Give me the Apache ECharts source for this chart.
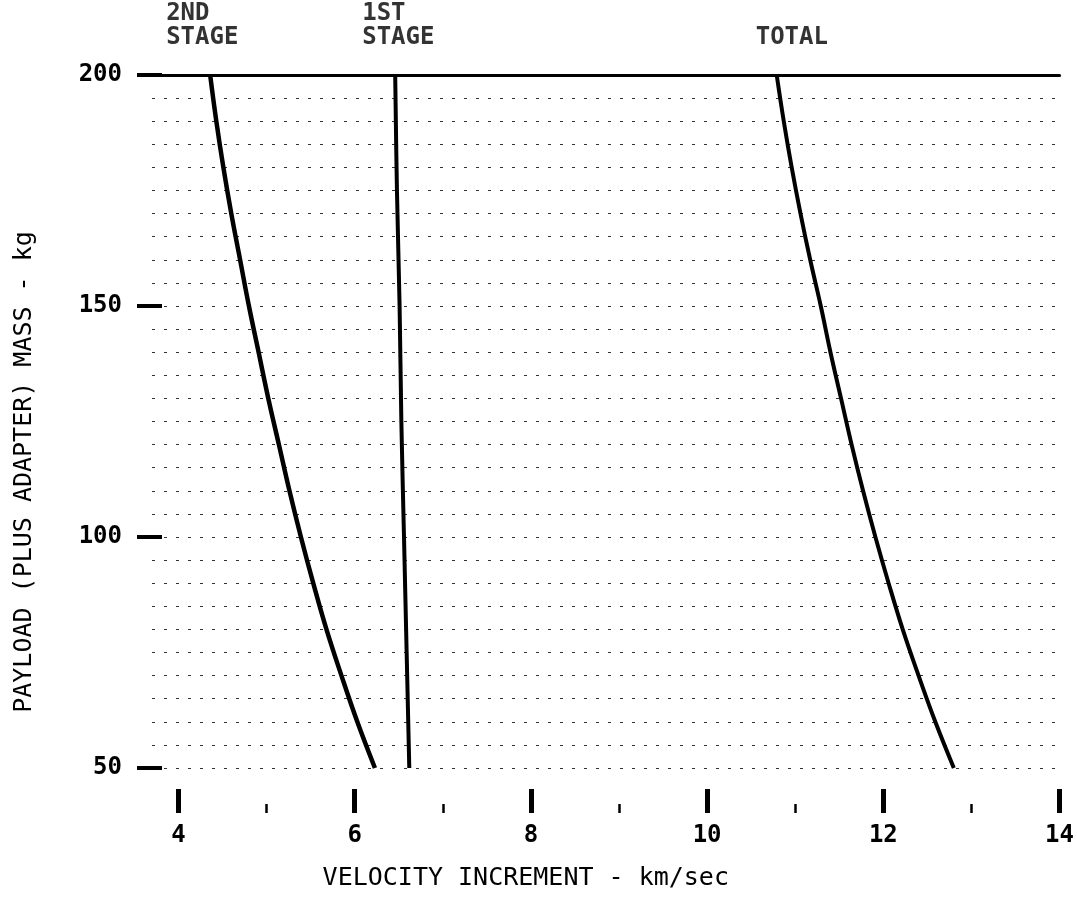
<!DOCTYPE html>
<html>
<head>
<meta charset="utf-8">
<script src="https://cdn.jsdelivr.net/npm/echarts@6/dist/echarts.min.js"></script>
<style>
  html, body { margin: 0; padding: 0; background: #fff; }
  #chart { width: 1077px; height: 902px; }
</style>
</head>
<body>
<div id="chart"></div>
<script>
// Payload mass (kg) sampled along the staged curves
const mass = [200, 190, 180, 170, 160, 150, 140, 130, 120, 110, 100, 90, 80, 70, 60, 50];
// Velocity increment (km/sec)
const secondStage = [4.36, 4.43, 4.51, 4.60, 4.70, 4.80, 4.91, 5.02, 5.14, 5.26, 5.39, 5.53, 5.68, 5.85, 6.03, 6.23];
const totalStage  = [10.79, 10.87, 10.96, 11.06, 11.17, 11.29, 11.40, 11.52, 11.64, 11.77, 11.91, 12.06, 12.22, 12.40, 12.59, 12.80];
const firstStageMass = [200, 175, 150, 125, 100, 75, 50];
const firstStage = [6.46, 6.48, 6.51, 6.53, 6.56, 6.59, 6.62];

const xMajorTicks = [4, 6, 8, 10, 12, 14];
const xMinorTicks = [5, 7, 9, 11, 13];

const curveLabels = ['2ND\nSTAGE', '1ST\nSTAGE', 'TOTAL'];

const FONT = 'DejaVu Sans Mono';

function pairs(xs, ys) { return xs.map((v, i) => [v, ys[i]]); }

const chart = echarts.init(document.getElementById('chart'), null, { renderer: 'canvas' });

const labelOffsets = [[-43, -72], [-32, -72], [-20, -48]];

chart.setOption({
  animation: false,
  backgroundColor: '#ffffff',
  grid: { left: 152, right: 9, top: 75, bottom: 134, containLabel: false },
  xAxis: [
    {
      type: 'value', min: 3.7, max: 14, position: 'bottom', offset: 45,
      axisLine: { show: false },
      axisTick: { show: true, inside: true, length: 24, customValues: xMajorTicks,
                  lineStyle: { color: '#000', width: 5 } },
      axisLabel: { show: true, customValues: xMajorTicks, margin: 11,
                   color: '#000', fontFamily: FONT, fontSize: 24, fontWeight: 'bold' },
      splitLine: { show: false },
      name: 'VELOCITY INCREMENT - km/sec',
      nameLocation: 'middle', nameGap: 53,
      nameTextStyle: { color: '#000', fontFamily: FONT, fontSize: 25, padding: [0, 160, 0, 0] }
    },
    {
      type: 'value', min: 3.7, max: 14, position: 'bottom', offset: 45,
      axisLine: { show: false },
      axisTick: { show: true, inside: true, length: 9, customValues: xMinorTicks,
                  lineStyle: { color: '#000', width: 2.5 } },
      axisLabel: { show: false },
      splitLine: { show: false }
    },
    {
      type: 'value', min: 3.7, max: 14, position: 'top',
      axisLine: { show: true, lineStyle: { color: '#000', width: 3 } },
      axisTick: { show: false },
      axisLabel: { show: false },
      splitLine: { show: false }
    }
  ],
  yAxis: {
    type: 'value', min: 50, max: 200, interval: 50, offset: -10,
    axisLine: { show: false },
    axisTick: { show: true, length: 25, lineStyle: { color: '#000', width: 4 } },
    axisLabel: { margin: 40, color: '#000', fontFamily: FONT, fontSize: 24, fontWeight: 'bold' },
    splitLine: { show: true, lineStyle: { color: '#333', width: 1, type: [3, 9] } },
    minorTick: { show: false, splitNumber: 10 },
    minorSplitLine: { show: true, lineStyle: { color: '#333', width: 1, type: [3, 9] } },
    name: 'PAYLOAD (PLUS ADAPTER) MASS - kg',
    nameLocation: 'middle', nameGap: 125,
    nameTextStyle: { color: '#000', fontFamily: FONT, fontSize: 25, padding: [0, 101, 0, 0] }
  },
  series: [
    {
      name: '2ND STAGE', type: 'line', xAxisIndex: 0, smooth: 0.4,
      showSymbol: false, symbol: 'none',
      lineStyle: { color: '#000', width: 4.5 },
      data: pairs(secondStage, mass)
    },
    {
      name: '1ST STAGE', type: 'line', xAxisIndex: 0, smooth: 0.4,
      showSymbol: false, symbol: 'none',
      lineStyle: { color: '#000', width: 4 },
      data: pairs(firstStage, firstStageMass)
    },
    {
      name: 'TOTAL', type: 'line', xAxisIndex: 0, smooth: 0.4,
      showSymbol: false, symbol: 'none',
      lineStyle: { color: '#000', width: 4 },
      data: pairs(totalStage, mass)
    },
    {
      name: 'labels', type: 'scatter', xAxisIndex: 0, symbolSize: 2,
      itemStyle: { color: 'rgba(0,0,0,0)' },
      silent: true,
      data: [
        [secondStage[0], mass[0]],
        [firstStage[0], firstStageMass[0]],
        [totalStage[0], mass[0]]
      ].map((p, i) => ({
        value: p,
        label: {
          show: true, position: labelOffsets[i], align: 'left', verticalAlign: 'top',
          formatter: curveLabels[i], color: '#000', fontFamily: FONT, fontSize: 24,
          fontWeight: 'bold', lineHeight: 24
        }
      }))
    }
  ]
});
</script>
</body>
</html>
